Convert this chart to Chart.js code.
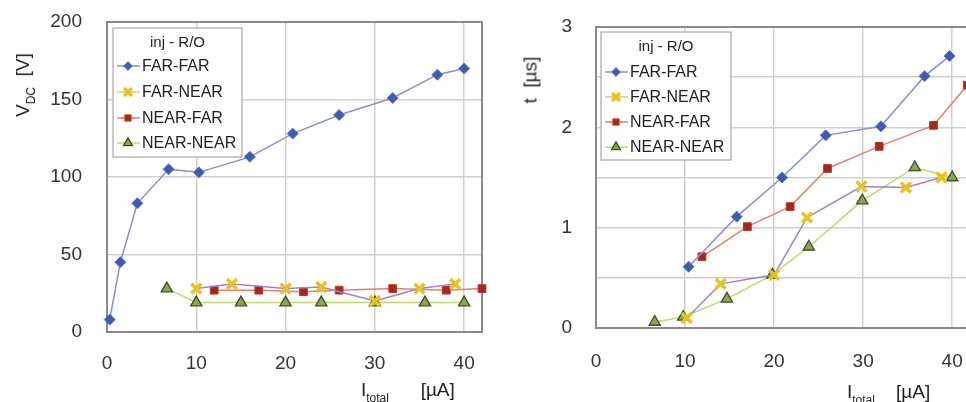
<!DOCTYPE html>
<html>
<head>
<meta charset="utf-8">
<script src="https://cdn.jsdelivr.net/npm/chart.js@4/dist/chart.umd.min.js"></script>
<style>
  html, body { margin: 0; padding: 0; background: #fff; width: 966px; height: 402px; overflow: hidden; position: relative; font-family: "Liberation Sans", Arial, sans-serif; }
  .box { position: absolute; top: 0; height: 402px; }
  #leftBox { left: 0; width: 500px; }
  #rightBox { left: 500px; width: 490px; }
  .ttl { position: absolute; color: #222; font-size: 19px; white-space: nowrap; line-height: 1; }
  .ttl sub { font-size: 12px; vertical-align: -6px; }
  .rot { transform: translate(-50%, -50%) rotate(-90deg); }
</style>
</head>
<body>
<div id="leftBox" class="box"><canvas id="c1" width="500" height="402"></canvas></div>
<div id="rightBox" class="box"><canvas id="c2" width="490" height="402"></canvas></div>
<div class="ttl rot" style="left:25px; top:85px;">V<sub>DC</sub>&nbsp; [V]</div>
<div class="ttl rot" style="left:530px; top:80px;">t&nbsp; [µs]</div>
<div class="ttl" style="left:361px; top:380px;">I<sub>total</sub>&nbsp;&nbsp;&nbsp;&nbsp;&nbsp; [µA]</div>
<div class="ttl" style="left:847px; top:382px;">I<sub>total</sub>&nbsp;&nbsp;&nbsp; [µA]</div>
<script>
// ---------- data ----------
const seriesNames = ['FAR-FAR', 'FAR-NEAR', 'NEAR-FAR', 'NEAR-NEAR'];
const legendTitle = 'inj - R/O';

// Left chart: V_DC [V] vs I_total [µA]
const vdcFarFarI   = [0.3, 1.5, 3.4, 6.9, 10.3, 16, 20.8, 26, 32, 37, 40];
const vdcFarFar    = [8, 45, 83, 105, 103, 113, 128, 140, 151, 166, 170];
const vdcFarNearI  = [10, 14, 20, 24, 30, 35, 39];
const vdcFarNear   = [28, 31, 28, 29, 20, 28, 31];
const vdcNearFarI  = [12, 17, 22, 26, 32, 38, 42];
const vdcNearFar   = [27, 27, 26, 27, 28, 27, 28];
const vdcNearNearI = [6.7, 10, 15, 20, 24, 30, 35.6, 40];
const vdcNearNear  = [28, 19, 19, 19, 19, 19, 19, 19];

// Right chart: t [µs] vs I_total [µA]
const tFarFarI   = [10.4, 15.8, 20.9, 25.8, 32, 36.9, 39.7];
const tFarFar    = [0.61, 1.11, 1.5, 1.92, 2.01, 2.51, 2.71];
const tFarNearI  = [10.2, 14, 20, 23.7, 29.8, 34.8, 38.8];
const tFarNear   = [0.1, 0.44, 0.53, 1.1, 1.41, 1.4, 1.5];
const tNearFarI  = [11.9, 17, 21.8, 26, 31.8, 37.9, 41.7];
const tNearFar   = [0.71, 1.01, 1.21, 1.59, 1.81, 2.02, 2.42];
const tNearNearI = [6.6, 9.8, 14.7, 19.8, 23.9, 29.9, 35.8, 40];
const tNearNear  = [0.06, 0.11, 0.29, 0.53, 0.81, 1.27, 1.6, 1.5];

const xTicksMajor = [0, 10, 20, 30, 40];

// ---------- styles ----------
const styles = [
  { borderColor: '#8a8fd2', pointStyle: 'rectRot', pointRadius: 5.5, pointBackgroundColor: '#3f5cae', pointBorderColor: '#5a72c4', pointBorderWidth: 1, legendLine: '#8a8fd2' },
  { borderColor: '#a77fd2', pointStyle: 'crossRot', pointRadius: 7, pointBackgroundColor: '#e9c320', pointBorderColor: '#e8c21e', pointBorderWidth: 3.5, legendLine: '#e8c866' },
  { borderColor: '#e3806c', pointStyle: 'rect', pointRadius: 5.5, pointBackgroundColor: '#a5281c', pointBorderColor: '#b8392a', pointBorderWidth: 1, legendLine: '#e3806c' },
  { borderColor: '#bfd86e', pointStyle: 'triangle', pointRadius: 6.5, pointBackgroundColor: '#8ca35a', pointBorderColor: '#3e4f22', pointBorderWidth: 1.3, legendLine: '#bfd86e' }
];

function mk(xs, ys) { return xs.map((x, i) => ({ x: x, y: ys[i] })); }
function datasets(pairs) {
  return pairs.map((p, i) => Object.assign({
    label: seriesNames[i], data: mk(p[0], p[1]), showLine: true, borderWidth: 1.5, clip: false, tension: 0
  }, styles[i]));
}

const frameLegendPlugin = {
  id: 'frameLegend',
  beforeDatasetsDraw(chart) {
    const a = chart.chartArea, ctx = chart.ctx;
    ctx.save();
    ctx.strokeStyle = '#8a8a8a';
    ctx.lineWidth = 2;
    ctx.strokeRect(a.left, a.top, a.right - a.left, a.bottom - a.top);
    ctx.restore();
  },
  afterDatasetsDraw(chart) {
    const o = chart.options.plugins.frameLegend;
    const a = chart.chartArea, ctx = chart.ctx;
    const bx = a.left + o.dx, by = a.top + o.dy;
    ctx.save();
    ctx.fillStyle = '#fff';
    ctx.fillRect(bx, by, o.w, o.h);
    ctx.strokeStyle = '#a8a8a8';
    ctx.lineWidth = 1.2;
    ctx.strokeRect(bx, by, o.w, o.h);
    ctx.fillStyle = '#222';
    ctx.textBaseline = 'middle';
    ctx.textAlign = 'center';
    ctx.font = '15px "Liberation Sans", Arial, sans-serif';
    ctx.fillText(legendTitle, bx + o.w / 2, by + 15);
    ctx.textAlign = 'left';
    ctx.font = '16px "Liberation Sans", Arial, sans-serif';
    chart.data.datasets.forEach((ds, i) => {
      const y = by + o.rows[i];
      ctx.strokeStyle = ds.legendLine;
      ctx.lineWidth = 1.5;
      ctx.beginPath(); ctx.moveTo(bx + 4, y); ctx.lineTo(bx + 27, y); ctx.stroke();
      ctx.fillStyle = ds.pointBackgroundColor;
      ctx.strokeStyle = ds.pointBorderColor;
      ctx.lineWidth = ds.pointBorderWidth;
      Chart.helpers.drawPoint(ctx, { pointStyle: ds.pointStyle, radius: ds.pointRadius * 0.8, rotation: 0, borderWidth: ds.pointBorderWidth }, bx + 15, y);
      ctx.fillStyle = '#222';
      ctx.fillText(ds.label, bx + 29, y + 1);
    });
    ctx.restore();
  }
};

function baseOptions(cfg) {
  return {
    responsive: false,
    animation: false,
    layout: { padding: { left: 0, top: cfg.top, right: cfg.right, bottom: 0 } },
    plugins: {
      legend: { display: false },
      tooltip: { enabled: false },
      frameLegend: cfg.legend
    },
    scales: {
      x: {
        type: 'linear', min: 0, max: 42,
        afterBuildTicks(scale) { scale.ticks = xTicksMajor.map(v => ({ value: v })); },
        afterFit(scale) { scale.height = cfg.xh; scale.paddingLeft = 0; scale.paddingRight = 0; },
        grid: { color: '#cfcfcf', lineWidth: 1.5, drawTicks: false },
        border: { display: false },
        ticks: { padding: cfg.xpad, color: '#333', font: { size: 19, family: '"Liberation Sans", Arial, sans-serif' }, maxRotation: 0 }
      },
      y: {
        type: 'linear', min: 0, max: cfg.ymax,
        afterFit(scale) { scale.width = cfg.yw; scale.paddingTop = 0; scale.paddingBottom = 0; },
        grid: { color: '#cfcfcf', lineWidth: 1.5, drawTicks: false },
        border: { display: false },
        ticks: {
          stepSize: cfg.ystep, padding: cfg.ypad, color: '#333',
          font: { size: 19, family: '"Liberation Sans", Arial, sans-serif' },
          callback: cfg.ycb
        }
      }
    }
  };
}

new Chart(document.getElementById('c1'), {
  type: 'scatter',
  data: { datasets: datasets([[vdcFarFarI, vdcFarFar], [vdcFarNearI, vdcFarNear], [vdcNearFarI, vdcNearFar], [vdcNearNearI, vdcNearNear]]) },
  options: baseOptions({ top: 22, right: 18, xh: 70, xpad: 20, yw: 107, ypad: 25, ymax: 200, ystep: 50,
    ycb: v => v,
    legend: { dx: 6, dy: 6, w: 129, h: 129, rows: [38, 64, 90, 115] } }),
  plugins: [frameLegendPlugin]
});

new Chart(document.getElementById('c2'), {
  type: 'scatter',
  data: { datasets: datasets([[tFarFarI, tFarFar], [tFarNearI, tFarNear], [tNearFarI, tNearFar], [tNearNearI, tNearNear]]) },
  options: baseOptions({ top: 27, right: 20, xh: 74, xpad: 22, yw: 96, ypad: 24, ymax: 3, ystep: 0.5,
    ycb: v => (Number.isInteger(v) ? v : ''),
    legend: { dx: 5, dy: 5, w: 130, h: 128, rows: [40, 65, 90, 115] } }),
  plugins: [frameLegendPlugin]
});
</script>
</body>
</html>
